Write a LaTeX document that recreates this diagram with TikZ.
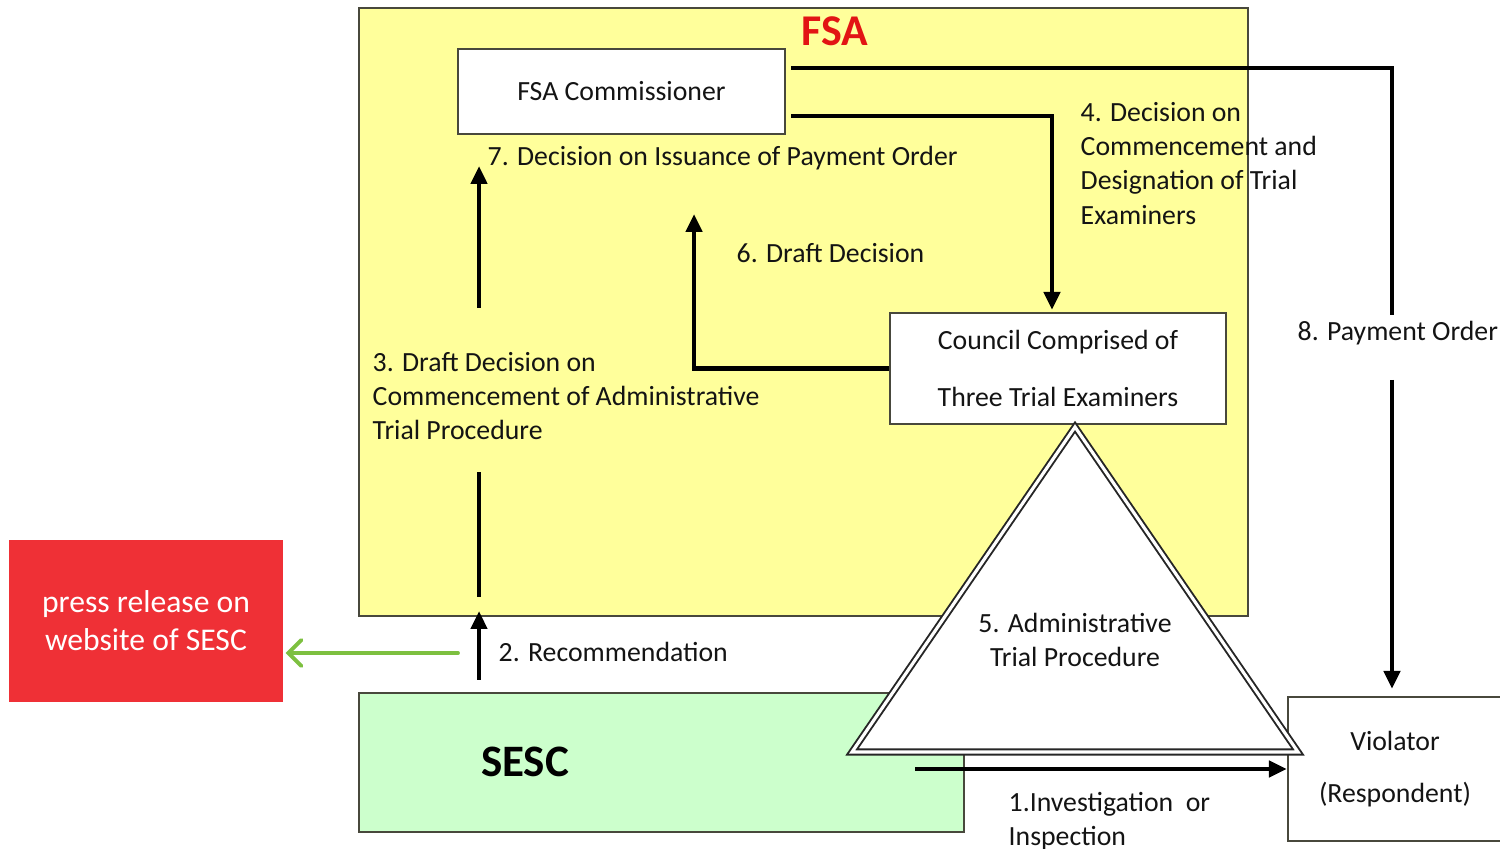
\documentclass[tikz,border=0pt]{standalone}
\usepackage{fontspec}
\setmainfont{Carlito}
\usepackage{xcolor}
\usetikzlibrary{arrows.meta, positioning, calc}
\definecolor{fsayellow}{RGB}{255,255,155}
\definecolor{sescgreen}{RGB}{204,255,204}
\definecolor{pressred}{RGB}{239,48,54}
\definecolor{linkgreen}{RGB}{125,192,64}
\definecolor{edgegray}{RGB}{72,72,60}
\definecolor{fsared}{RGB}{226,20,20}

\begin{document}
\begin{tikzpicture}[
    x=0.1mm, y=-0.1mm,
    every node/.style={font=\fontsize{7.9}{9.7}\selectfont, text=black!92},
    panel/.style={rectangle, draw=edgegray, line width=0.6pt, inner sep=0pt},
    box/.style={panel, fill=white},
    steptext/.style={align=left, anchor=north west, inner sep=0pt},
    flow/.style={-{Triangle[length=1.8mm, width=1.6mm]}, line width=1.4pt},
    flowline/.style={line width=1.4pt},
    release/.style={-{Straight Barb[length=1.3mm, width=2.6mm, line cap=round]}, line width=1.1pt, linkgreen, line cap=round}
]
\useasboundingbox (0,0) rectangle (1500,849);

% FSA and SESC panels
\node[panel, fill=fsayellow, minimum width=88.9mm, minimum height=60.8mm] (fsa) at (803.5,312) {};
\node[font=\fontsize{12.5}{14}\selectfont\bfseries, text=fsared] (fsatitle) at (835,31) {FSA};
\node[panel, fill=sescgreen, minimum width=60.5mm, minimum height=13.9mm] (sesc) at (661.5,762.5) {};
\node[font=\fontsize{12.8}{15}\selectfont\bfseries, text=black] (sesctitle) at (525,762) {SESC};

% boxes
\node[box, minimum width=32.7mm, minimum height=8.5mm] (comm) at (621.5,91.5) {FSA Commissioner};
\node[box, minimum width=33.6mm, minimum height=11.1mm, align=center, font=\fontsize{7.9}{16}\selectfont] (council) at (1058,368.5) {Council Comprised of\\Three Trial Examiners};
\node[box, minimum width=21.4mm, minimum height=14.4mm, align=center, font=\fontsize{7.9}{15}\selectfont] (viol) at (1395,769) {Violator\\(Respondent)};
\node[rectangle, fill=pressred, minimum width=27.4mm, minimum height=16.2mm, align=center, text=white, font=\fontsize{9}{10.8}\selectfont] (press) at (146,621) {press release on\\website of SESC};

% administrative trial procedure
\coordinate (apex) at (1075,427);
\coordinate (baseL) at (852,752);
\coordinate (baseR) at (1298,752);
\draw[fill=white, draw=black!85, line width=0.55pt, double=white, double distance=0.9pt, line join=miter]
    (apex) -- (baseL) -- (baseR) -- cycle;
\node[align=center] (trial) at (1075,640) {5. Administrative\\Trial Procedure};

% 1. investigation
\coordinate (inv) at (915,769);
\draw[flow] (inv) -- (viol.west |- inv);
\node[steptext] (invtxt) at (1008,792) {1.Investigation\ \ or\\Inspection};

% 2. recommendation
\coordinate (rec0) at (479,680);
\coordinate (rec1) at (479,611);
\draw[flow] (rec0) -- (rec1);
\node[anchor=west, inner sep=0pt] (rectxt) at (498,652) {2. Recommendation};
\coordinate (pr0) at (458,653);
\draw[release] (pr0) -- ([xshift=0.2mm]press.east |- pr0);

% 3. draft decision on commencement
\coordinate (dd0) at (479,597);
\coordinate (dd1) at (479,472);
\coordinate (dd2) at (479,308);
\coordinate (dd3) at (479,166);
\draw[flowline] (dd0) -- (dd1);
\draw[flow] (dd2) -- (dd3);
\node[steptext] (ddtxt) at (372,352) {3. Draft Decision on\\Commencement of Administrative\\Trial Procedure};

% 4. decision on commencement
\coordinate (dc) at (1052,116);
\draw[flow] ([xshift=0.5mm]comm.east |- dc) -| ([yshift=0.2mm]council.north -| dc);
\node[steptext] (dctxt) at (1080,102) {4. Decision on\\Commencement and\\Designation of Trial\\Examiners};

% 6. draft decision
\coordinate (dr) at (694,214);
\draw[flow] (council.west) -| (dr);
\node[anchor=west, inner sep=0pt] (drtxt) at (736,253) {6. Draft Decision};

% 7. decision on issuance
\node[anchor=west, inner sep=0pt] (istxt) at (487,158) {7. Decision on Issuance of Payment Order};

% 8. payment order
\coordinate (po0) at (1392,68);
\coordinate (po1) at (1392,315);
\coordinate (po2) at (1392,380);
\draw[flowline] ([xshift=0.5mm]comm.east |- po0) -| (po1);
\draw[flow, shorten >=0.7mm] (po2) -- (viol.north -| po2);
\node[anchor=west, inner sep=0pt] (potxt) at (1297,333) {8. Payment Order};

\end{tikzpicture}
\end{document}
